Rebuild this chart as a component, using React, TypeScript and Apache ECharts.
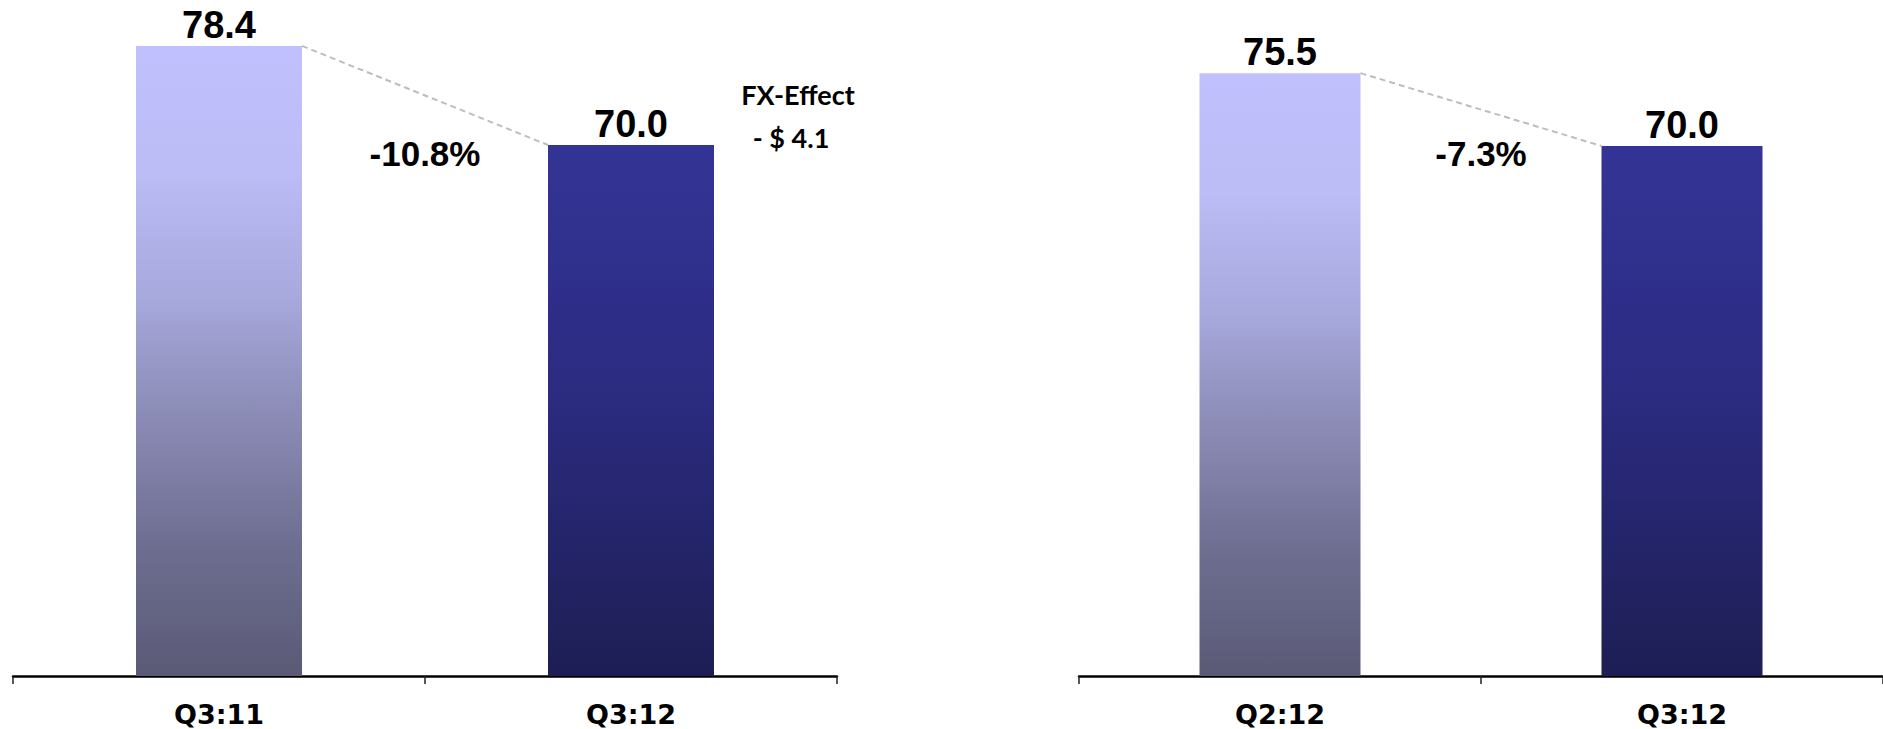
import React, { useEffect, useRef } from "react";
import * as echarts from "echarts";

// ---- data ----
const leftCategories = ["Q3:11", "Q3:12"];
const leftValues = [78.4, 70.0];
const leftChange = "-10.8%";
const rightCategories = ["Q2:12", "Q3:12"];
const rightValues = [75.5, 70.0];
const rightChange = "-7.3%";
const fxEffectLines = ["FX-Effect", "- $ 4.1"];
const leftAxisRange = [25, 80];
const rightAxisRange = [30, 80];

const LEFT_BAR_W = 166;
const RIGHT_BAR_W = 161;

const lightGrad = () =>
  new echarts.graphic.LinearGradient(0, 0, 0, 1, [
    { offset: 0, color: "#C0C0FE" },
    { offset: 0.2, color: "#BCBCF6" },
    { offset: 0.4, color: "#A7A8DC" },
    { offset: 0.56, color: "#8F8FBB" },
    { offset: 0.8, color: "#6D6D90" },
    { offset: 1, color: "#5A5A76" },
  ]);
const darkGrad = () =>
  new echarts.graphic.LinearGradient(0, 0, 0, 1, [
    { offset: 0, color: "#343496" },
    { offset: 0.29, color: "#2E2E8A" },
    { offset: 0.48, color: "#2B2B80" },
    { offset: 0.75, color: "#24246A" },
    { offset: 1, color: "#1E1E54" },
  ]);

const valueFont = "'Liberation Sans', Arial, sans-serif";
const catFont = "'DejaVu Sans', Verdana, sans-serif";
const noteFont = "Lato, 'Open Sans', sans-serif";

export default function App() {
  const ref = useRef<HTMLDivElement>(null);

  useEffect(() => {
    if (!ref.current) return;
    const chart = echarts.init(ref.current, undefined, { renderer: "svg" });

    const xAxisCommon = {
      type: "category" as const,
      boundaryGap: true,
      axisLine: { show: true, lineStyle: { color: "#000", width: 2.5 } },
      axisTick: { show: true, length: 8, lineStyle: { color: "#222", width: 1.5 } },
      axisLabel: {
        color: "#000",
        fontFamily: catFont,
        fontWeight: "bold" as const,
        fontSize: 27,
        margin: 25,
      },
      splitLine: { show: false },
    };
    const yAxisCommon = {
      type: "value" as const,
      show: false,
      splitLine: { show: false },
    };
    const labelCommon = {
      show: true,
      position: "top" as const,
      distance: 2,
      color: "#000",
      fontFamily: valueFont,
      fontWeight: "bold" as const,
      fontSize: 38,
      formatter: (p: any) => Number(p.value).toFixed(1),
    };

    const option: any = {
      animation: false,
      backgroundColor: "#fff",
      grid: [
        { left: 13, width: 824, top: 27, height: 649 },
        { left: 1079, width: 804, top: 13.5, height: 662.5 },
      ],
      xAxis: [
        { ...xAxisCommon, gridIndex: 0, data: leftCategories },
        { ...xAxisCommon, gridIndex: 1, data: rightCategories },
      ],
      yAxis: [
        { ...yAxisCommon, gridIndex: 0, min: leftAxisRange[0], max: leftAxisRange[1] },
        { ...yAxisCommon, gridIndex: 1, min: rightAxisRange[0], max: rightAxisRange[1] },
      ],
      series: [
        {
          type: "bar",
          xAxisIndex: 0,
          yAxisIndex: 0,
          barWidth: LEFT_BAR_W,
          label: labelCommon,
          data: leftValues.map((v, i) => ({
            value: v,
            itemStyle: { color: i === 0 ? lightGrad() : darkGrad() },
          })),
        },
        {
          type: "bar",
          xAxisIndex: 1,
          yAxisIndex: 1,
          barWidth: RIGHT_BAR_W,
          label: labelCommon,
          data: rightValues.map((v, i) => ({
            value: v,
            itemStyle: { color: i === 0 ? lightGrad() : darkGrad() },
          })),
        },
      ],
    };
    chart.setOption(option);

    const connector = (gridIndex: number, values: number[], barW: number) => {
      const p0 = chart.convertToPixel({ gridIndex }, [0, values[0]]) as number[];
      const p1 = chart.convertToPixel({ gridIndex }, [1, values[1]]) as number[];
      return {
        type: "line",
        silent: true,
        shape: { x1: p0[0] + barW / 2, y1: p0[1], x2: p1[0] - barW / 2, y2: p1[1] },
        style: { stroke: "#BDBDBD", lineWidth: 2, lineDash: [6, 4] },
        z: 5,
      };
    };
    const midX = (gridIndex: number) => {
      const a = chart.convertToPixel({ gridIndex }, [0, 0]) as number[];
      const b = chart.convertToPixel({ gridIndex }, [1, 0]) as number[];
      return (a[0] + b[0]) / 2;
    };
    const pctText = (gridIndex: number, text: string) => ({
      type: "text",
      x: midX(gridIndex),
      y: 153,
      style: {
        text,
        fill: "#000",
        font: `bold 35px ${valueFont}`,
        textAlign: "center",
        textVerticalAlign: "middle",
      },
      z: 10,
    });

    chart.setOption({
      graphic: [
        connector(0, leftValues, LEFT_BAR_W),
        connector(1, rightValues, RIGHT_BAR_W),
        pctText(0, leftChange),
        pctText(1, rightChange),
        {
          type: "text",
          x: 798,
          y: 94,
          style: {
            text: fxEffectLines[0],
            fill: "#000",
            font: `bold 27px ${noteFont}`,
            textAlign: "center",
            textVerticalAlign: "middle",
          },
        },
        {
          type: "text",
          x: 791,
          y: 137,
          style: {
            text: fxEffectLines[1],
            fill: "#000",
            font: `bold 27px ${noteFont}`,
            textAlign: "center",
            textVerticalAlign: "middle",
          },
        },
      ],
    });

    return () => chart.dispose();
  }, []);

  return (
    <div
      ref={ref}
      style={{ position: "absolute", left: 0, top: 0, width: 1883, height: 729 }}
    />
  );
}
